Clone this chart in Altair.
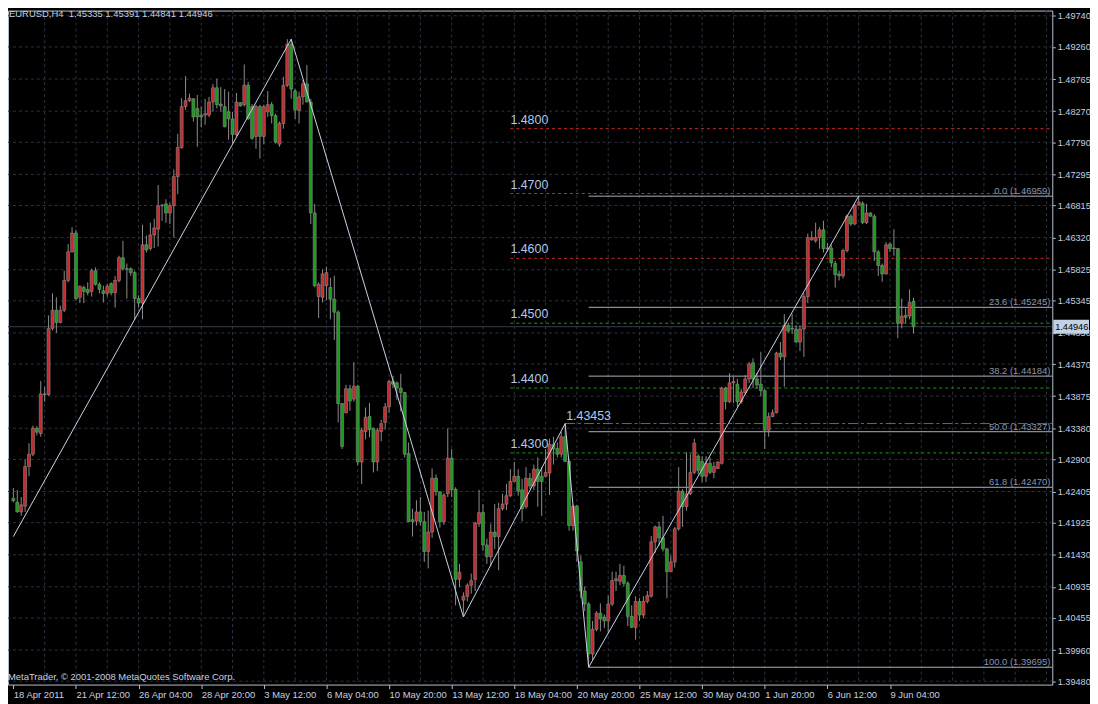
import altair as alt
import pandas as pd

# ---------------- data ----------------
SYMBOL = "EURUSD,H4"

O = [
1.4230,1.4224,1.4209,1.4218,1.4279,1.4298,1.4338,1.4330,1.4391,1.4390,
1.4492,1.4520,1.4501,1.4520,1.4566,1.4610,1.4639,1.4540,1.4555,1.4552,
1.4549,1.4581,1.4560,1.4550,1.4546,1.4561,1.4547,1.4566,1.4601,1.4584,
1.4584,1.4578,1.4538,1.4531,1.4621,1.4615,1.4636,1.4645,1.4681,1.4684,
1.4670,1.4681,1.4726,1.4771,1.4834,1.4843,1.4846,1.4831,1.4821,1.4821,
1.4821,1.4841,1.4863,1.4838,1.4834,1.4826,1.4815,1.4791,1.4840,1.4837,
1.4867,1.4834,1.4788,1.4834,1.4788,1.4826,1.4837,1.4820,1.4776,1.4808,
1.4867,1.4930,1.4858,1.4828,1.4849,1.4869,1.4841,1.4670,1.4541,1.4540,
1.4558,1.4555,1.4537,1.4517,1.4376,1.4362,1.4399,1.4383,1.4403,1.4286,
1.4333,1.4356,1.4338,1.4286,1.4333,1.4347,1.4371,1.4410,1.4408,1.4400,
1.4393,1.4299,1.4197,1.4195,1.4209,1.4194,1.4148,1.4178,1.4261,1.4240,
1.4194,1.4237,1.4292,1.4244,1.4105,1.4073,1.4079,1.4096,1.4105,1.4191,
1.4208,1.4158,1.4140,1.4178,1.4171,1.4214,1.4221,1.4234,1.4256,1.4264,
1.4243,1.4217,1.4261,1.4249,1.4275,1.4264,1.4264,1.4269,1.4313,1.4307,
1.4298,1.4325,1.4287,1.4188,1.4218,1.4132,1.4087,1.4067,1.3990,1.4028,
1.4053,1.4047,1.4041,1.4067,1.4103,1.4102,1.4111,1.4099,1.4048,1.4031,
1.4071,1.4050,1.4071,1.4079,1.4163,1.4186,1.4169,1.4152,1.4117,1.4132,
1.4183,1.4241,1.4217,1.4237,1.4270,1.4295,1.4287,1.4264,1.4284,1.4270,
1.4276,1.4284,1.4400,1.4379,1.4408,1.4406,1.4379,1.4393,1.4414,1.4439,
1.4414,1.4406,1.4396,1.4335,1.4356,1.4362,1.4454,1.4448,1.4497,1.4492,
1.4491,1.4471,1.4491,1.4541,1.4629,1.4627,1.4632,1.4644,1.4615,1.4616,
1.4592,1.4576,1.4573,1.4612,1.4665,1.4653,1.4682,1.4685,1.4655,1.4670,
1.4665,1.4610,1.4589,1.4576,1.4622,1.4616,1.4615,1.4500,1.4512,1.4511,
1.45335]

H = [
1.4246,1.4243,1.4232,1.4290,1.4315,1.4342,1.4341,1.4411,1.4402,1.4512,
1.4546,1.4540,1.4527,1.4581,1.4622,1.4648,1.4644,1.4558,1.4558,1.4563,
1.4584,1.4586,1.4563,1.4558,1.4561,1.4563,1.4573,1.4604,1.4627,1.4592,
1.4586,1.4581,1.4543,1.4652,1.4635,1.4655,1.4661,1.4713,1.4684,1.4691,
1.4685,1.4737,1.4792,1.4847,1.4881,1.4854,1.4847,1.4852,1.4834,1.4846,
1.4849,1.4869,1.4877,1.4864,1.4861,1.4857,1.4826,1.4855,1.4841,1.4899,
1.4872,1.4838,1.4837,1.4837,1.4837,1.4858,1.4841,1.4823,1.4811,1.4880,
1.4938,1.4938,1.4861,1.4857,1.4875,1.4898,1.4846,1.4684,1.4563,1.4583,
1.4587,1.4570,1.4573,1.4520,1.4377,1.4405,1.4405,1.4440,1.4405,1.4339,
1.4370,1.4377,1.4339,1.4338,1.4351,1.4377,1.4413,1.4419,1.4410,1.4422,
1.4394,1.4316,1.4214,1.4227,1.4232,1.4209,1.4211,1.4276,1.4267,1.4241,
1.4238,1.4338,1.4306,1.4247,1.4129,1.4085,1.4099,1.4114,1.4194,1.4243,
1.4221,1.4168,1.4191,1.4221,1.4223,1.4237,1.4252,1.4275,1.4286,1.4275,
1.4260,1.4278,1.4269,1.4282,1.4293,1.4278,1.4306,1.4322,1.4325,1.4316,
1.4332,1.43453,1.4290,1.4220,1.4220,1.4142,1.4094,1.4070,1.4041,1.4056,
1.4068,1.4051,1.4080,1.4117,1.4117,1.4129,1.4126,1.4102,1.4065,1.4079,
1.4076,1.4079,1.4087,1.4172,1.4188,1.4194,1.4203,1.4154,1.4142,1.4186,
1.4278,1.4244,1.4301,1.4298,1.4322,1.4298,1.4295,1.4295,1.4293,1.4286,
1.4287,1.4402,1.4402,1.4423,1.4417,1.4414,1.4399,1.4420,1.4440,1.4446,
1.4423,1.4456,1.4399,1.4362,1.4367,1.4456,1.4471,1.4514,1.4501,1.4514,
1.4497,1.4497,1.4546,1.4638,1.4642,1.4655,1.4648,1.4658,1.4624,1.4621,
1.4596,1.4581,1.4615,1.4668,1.4668,1.4684,1.46959,1.4688,1.4684,1.4671,
1.4668,1.4613,1.4592,1.4625,1.4625,1.4645,1.4616,1.4538,1.4523,1.4552,
1.45391]

L = [
1.4224,1.4208,1.4203,1.4209,1.4264,1.4295,1.4327,1.4325,1.4379,1.4388,
1.4489,1.4485,1.4500,1.4517,1.4563,1.4609,1.4535,1.4531,1.4531,1.4543,
1.4541,1.4558,1.4546,1.4532,1.4541,1.4543,1.4524,1.4563,1.4581,1.4538,
1.4573,1.4505,1.4524,1.4506,1.4609,1.4612,1.4616,1.4618,1.4658,1.4655,
1.4653,1.4632,1.4699,1.4769,1.4829,1.4841,1.4811,1.4772,1.4802,1.4806,
1.4818,1.4826,1.4831,1.4826,1.4802,1.4783,1.4777,1.4788,1.4834,1.4834,
1.4814,1.4783,1.4769,1.4754,1.4776,1.4818,1.4808,1.4777,1.4772,1.4800,
1.4864,1.4846,1.4815,1.4808,1.4837,1.4841,1.4653,1.4555,1.4508,1.4532,
1.4535,1.4506,1.4474,1.4347,1.4306,1.4361,1.4365,1.4379,1.4281,1.4252,
1.4321,1.4324,1.4270,1.4272,1.4318,1.4336,1.4362,1.4400,1.4382,1.4364,
1.4293,1.4194,1.4171,1.4188,1.4188,1.4132,1.4122,1.4169,1.4234,1.4185,
1.4189,1.4232,1.4232,1.4065,1.4093,1.4047,1.4071,1.4083,1.4087,1.4186,
1.4149,1.4129,1.4125,1.4152,1.4119,1.4211,1.4212,1.4232,1.4255,1.4234,
1.4194,1.4214,1.4244,1.4243,1.4217,1.4203,1.4263,1.4235,1.4282,1.4293,
1.4293,1.4286,1.4180,1.4180,1.4132,1.4076,1.4056,1.39695,1.3981,1.4025,
1.4025,1.4030,1.4022,1.4064,1.4087,1.4096,1.4094,1.4033,1.4030,1.4012,
1.4041,1.4045,1.4068,1.4077,1.4146,1.4157,1.4148,1.4076,1.4117,1.4123,
1.4180,1.4186,1.4211,1.4235,1.4267,1.4267,1.4255,1.4255,1.4267,1.4261,
1.4275,1.4282,1.4367,1.4377,1.4377,1.4371,1.4376,1.4390,1.4408,1.4400,
1.4399,1.4387,1.4306,1.4325,1.4355,1.4361,1.4443,1.4402,1.4485,1.4483,
1.4469,1.4457,1.4448,1.4531,1.4627,1.4624,1.4615,1.4609,1.4612,1.4586,
1.4555,1.4566,1.4569,1.4609,1.4650,1.4651,1.4681,1.4653,1.4653,1.4664,
1.4596,1.4573,1.4564,1.4575,1.4610,1.4604,1.4477,1.4492,1.4500,1.4506,
1.44841]

C = [
1.4226,1.4209,1.4220,1.4279,1.4298,1.4338,1.4332,1.4391,1.4390,1.4492,
1.4520,1.4501,1.4520,1.4566,1.4610,1.4639,1.4538,1.4557,1.4549,1.4547,
1.4581,1.4560,1.4552,1.4546,1.4557,1.4547,1.4566,1.4601,1.4584,1.4583,
1.4578,1.4538,1.4531,1.4621,1.4613,1.4636,1.4647,1.4681,1.4682,1.4670,
1.4681,1.4726,1.4771,1.4834,1.4843,1.4847,1.4818,1.4818,1.4818,1.4823,
1.4841,1.4863,1.4837,1.4835,1.4803,1.4815,1.4791,1.4841,1.4835,1.4867,
1.4815,1.4785,1.4834,1.4788,1.4834,1.4837,1.4820,1.4779,1.4808,1.4867,
1.4930,1.4861,1.4829,1.4849,1.4869,1.4841,1.4670,1.4558,1.4560,1.4576,
1.4578,1.4537,1.4517,1.4376,1.4310,1.4399,1.4380,1.4403,1.4286,1.4335,
1.4355,1.4336,1.4286,1.4335,1.4345,1.4371,1.4410,1.4406,1.4400,1.4393,
1.4298,1.4194,1.4194,1.4209,1.4194,1.4148,1.4178,1.4261,1.4240,1.4194,
1.4235,1.4292,1.4243,1.4105,1.4116,1.4079,1.4096,1.4103,1.4192,1.4208,
1.4158,1.4140,1.4178,1.4171,1.4214,1.4221,1.4234,1.4256,1.4264,1.4241,
1.4214,1.4261,1.4249,1.4275,1.4256,1.4256,1.4270,1.4313,1.4306,1.4298,
1.4325,1.4287,1.4188,1.4218,1.4149,1.4087,1.4067,1.3990,1.4028,1.4053,
1.4044,1.4041,1.4067,1.4103,1.4106,1.4111,1.4099,1.4048,1.4031,1.4071,
1.4050,1.4071,1.4080,1.4163,1.4186,1.4169,1.4152,1.4117,1.4132,1.4183,
1.4241,1.4217,1.4237,1.4270,1.4315,1.4273,1.4264,1.4284,1.4270,1.4279,
1.4286,1.4400,1.4379,1.4408,1.4410,1.4379,1.4394,1.4414,1.4437,1.4414,
1.4405,1.4396,1.4335,1.4356,1.4362,1.4454,1.4448,1.4497,1.4488,1.4491,
1.4471,1.4491,1.4541,1.4632,1.4632,1.4632,1.4644,1.4615,1.4616,1.4593,
1.4575,1.4573,1.4612,1.4665,1.4653,1.4682,1.4687,1.4655,1.4670,1.4665,
1.4610,1.4589,1.4576,1.4621,1.4615,1.4615,1.4500,1.4511,1.4509,1.4532,
1.44946]

X_LABELS = ["18 Apr 2011", "21 Apr 12:00", "26 Apr 04:00", "28 Apr 20:00",
            "3 May 12:00", "6 May 04:00", "10 May 20:00", "13 May 12:00",
            "18 May 04:00", "20 May 20:00", "25 May 12:00", "30 May 04:00",
            "1 Jun 20:00", "6 Jun 12:00", "9 Jun 04:00"]
X_LABEL_BARS = [0, 16, 32, 48, 64, 80, 96, 112, 128, 144, 160, 176, 192, 208, 224]
GRID_BARS = [8, 16, 24, 32, 40, 48, 56, 64, 72, 80, 88, 96, 104, 112, 120, 128,
             136, 144, 152, 160, 168, 176, 184, 192, 200, 208, 216, 224, 232,
             240, 248, 256, 264]
Y_TICKS = [1.49740, 1.49260, 1.48765, 1.48270, 1.47790, 1.47295, 1.46815,
           1.46320, 1.45825, 1.45345, 1.44850, 1.44370, 1.43875, 1.43380,
           1.42900, 1.42405, 1.41925, 1.41430, 1.40935, 1.40455, 1.39960,
           1.39480]

ZZ_BARS = [0, 71, 115, 141, 147, 216]
ZZ_PRICES = [1.4171, 1.4938, 1.4047, 1.43453, 1.39695, 1.46959]

FIB_LEVELS = [0.0, 23.6, 38.2, 50.0, 61.8, 100.0]
FIB_PRICES = [1.46959, 1.45245, 1.44184, 1.43327, 1.42470, 1.39695]
FIB_START_BAR = 147

HLINE_PRICES = [1.4800, 1.4700, 1.4600, 1.4500, 1.4400, 1.4300]
HLINE_KIND = ["red", "red", "red", "green", "green", "green"]
HLINE_START_BAR = 127

SWING_PRICE = 1.43453
SWING_BAR = 141

# ---------------- styling ----------------
W, HP = 1052, 679
FONT = "Liberation Sans"
BG = "#000000"
BORDER = "#b4bfd0"
TXT = "#c6d0e0"
GRIDC = "#2c3242"
WICK = "#8c8c8c"
UP = "#1f8f1f"
DOWN = "#d42020"
ZZC = "#c8d4e8"
FIBC = "#a8b0c0"
FIBT = "#8a96ac"
REDL = "#c8282a"
GREENL = "#1a9a1a"
LBL = "#b0c8ee"
BIDC = "#353c4a"
BOXC = "#c4d0e4"

XS = alt.Scale(domain=[-0.1, 264.2], nice=False, zero=False)
YS = alt.Scale(domain=[1.39428, 1.49821], nice=False, zero=False)

label_js = "[" + ",".join("'" + s + "'" for s in X_LABELS) + "][round(datum.value / 16)]"

XA = alt.Axis(values=X_LABEL_BARS, labelExpr=label_js, orient="bottom", grid=False,
              domain=False, ticks=True, tickSize=4, tickColor=BORDER,
              labelColor=TXT, labelFont=FONT, labelFontSize=9.5, labelAlign="left",
              labelBaseline="top", labelPadding=1, labelFlush=False,
              labelOverlap=False, title=None)
YA = alt.Axis(values=Y_TICKS, orient="right", format=".5f", grid=False, domain=False,
              ticks=True, tickSize=3, tickColor=BORDER, labelColor=TXT,
              labelFont=FONT, labelFontSize=9.2, labelPadding=2,
              labelBaseline="middle", labelOverlap=False, title=None)


def X(f):
    return alt.X(f, type="quantitative", scale=XS, axis=XA, title=None)


def Y(f):
    return alt.Y(f, type="quantitative", scale=YS, axis=YA, title=None)


n = len(C)
bars = pd.DataFrame({"i": list(range(n)), "open": O, "high": H, "low": L, "close": C})
bars["dir"] = ["up" if c > o else ("down" if c < o else "flat") for o, c in zip(O, C)]
bars["b0"] = [min(o, c) for o, c in zip(O, C)]
bars["b1"] = [max(o, c) for o, c in zip(O, C)]

vgrid = alt.Chart(pd.DataFrame({"i": GRID_BARS})).mark_rule(
    color=GRIDC, strokeDash=[3, 3], strokeWidth=1).encode(x=X("i"))
hgrid = alt.Chart(pd.DataFrame({"p": Y_TICKS})).mark_rule(
    color=GRIDC, strokeDash=[3, 3], strokeWidth=1).encode(y=Y("p"))

bid = alt.Chart(pd.DataFrame({"p": [C[-1]]})).mark_rule(
    color=BIDC, strokeWidth=1).encode(y=Y("p"))

hl_df = pd.DataFrame({"p": HLINE_PRICES, "kind": HLINE_KIND,
                      "s": [HLINE_START_BAR] * len(HLINE_PRICES),
                      "t": ["%.4f" % p for p in HLINE_PRICES]})
hlines = alt.Chart(hl_df).mark_rule(strokeDash=[3, 3], strokeWidth=1).encode(
    x=X("s"), x2=alt.value(W), y=Y("p"),
    color=alt.Color("kind:N", scale=alt.Scale(domain=["red", "green"], range=[REDL, GREENL]),
                    legend=None))
hlabels = alt.Chart(hl_df).mark_text(
    align="left", baseline="alphabetic", dy=-5, fontSize=12.5, font=FONT, color=LBL
).encode(x=X("s"), y=Y("p"), text="t:N")

fib_df = pd.DataFrame({"p": FIB_PRICES, "s": [FIB_START_BAR] * len(FIB_PRICES),
                       "t": ["%.1f (%.5f)" % (l, p) for l, p in zip(FIB_LEVELS, FIB_PRICES)]})
fibl = alt.Chart(fib_df).mark_rule(color=FIBC, strokeWidth=1).encode(
    x=X("s"), x2=alt.value(W), y=Y("p"))
fibt = alt.Chart(fib_df).mark_text(
    align="right", baseline="alphabetic", dy=-2, fontSize=9.5, font=FONT, color=FIBT
).encode(x=alt.value(W - 2), y=Y("p"), text="t:N")

sw_df = pd.DataFrame({"p": [SWING_PRICE], "s": [SWING_BAR], "t": ["%.5f" % SWING_PRICE]})
swl = alt.Chart(sw_df).mark_rule(color=GREENL, strokeDash=[10, 3, 3, 3], strokeWidth=1).encode(
    x=X("s"), x2=alt.value(W), y=Y("p"))
swt = alt.Chart(sw_df).mark_text(
    align="left", baseline="alphabetic", dx=1, dy=-4, fontSize=12.5, font=FONT, color=LBL
).encode(x=X("s"), y=Y("p"), text="t:N")

wicks = alt.Chart(bars).mark_rule(color=WICK, strokeWidth=1).encode(
    x=X("i"), y=Y("low"), y2="high")
bodies = alt.Chart(bars).mark_bar(size=3, stroke=WICK, strokeWidth=0.6).encode(
    x=X("i"), y=Y("b0"), y2="b1",
    color=alt.Color("dir:N", scale=alt.Scale(domain=["up", "down", "flat"],
                                             range=[UP, DOWN, WICK]), legend=None))

zz = alt.Chart(pd.DataFrame({"i": ZZ_BARS, "p": ZZ_PRICES})).mark_line(
    color=ZZC, strokeWidth=1).encode(x=X("i"), y=Y("p"))

title_txt = "%s\u00a0 %.5f %.5f %.5f %.5f" % (SYMBOL, O[-1], H[-1], L[-1], C[-1])
title = alt.Chart(pd.DataFrame({"t": [title_txt]})).mark_text(
    align="left", baseline="alphabetic", fontSize=9.5, font=FONT, color=TXT
).encode(x=alt.value(1), y=alt.value(6), text="t:N")

credit = alt.Chart(pd.DataFrame({"t": ["MetaTrader, \u00a9 2001-2008 MetaQuotes Software Corp."]})).mark_text(
    align="left", baseline="alphabetic", fontSize=9.5, font=FONT, color=TXT
).encode(x=alt.value(0), y=alt.value(674), text="t:N")

box_df = pd.DataFrame({"p": [C[-1]], "t": ["%.5f" % C[-1]]})
box = alt.Chart(box_df).mark_point(
    shape="M-1,-0.39L1,-0.39L1,0.39L-1,0.39Z", size=1296, filled=True,
    color=BOXC, opacity=1, strokeWidth=0
).encode(x=alt.value(W + 19), y=Y("p"))
boxt = alt.Chart(box_df).mark_text(
    align="left", baseline="middle", fontSize=9.2, font=FONT, color="#000000"
).encode(x=alt.value(W + 3), y=Y("p"), text="t:N")

chart = alt.layer(
    vgrid, hgrid, bid, hlines, fibl, swl, wicks, bodies, zz,
    hlabels, fibt, swt, title, credit, box, boxt
).properties(
    width=W, height=HP, background=BG,
    autosize=alt.AutoSizeParams(type="none"),
    padding={"left": 0, "top": 0, "right": 38, "bottom": 17}
).configure_view(stroke=BORDER, strokeWidth=1, fill=BG)

chart.save("out.html", embed_options={"renderer": "svg", "actions": False})
